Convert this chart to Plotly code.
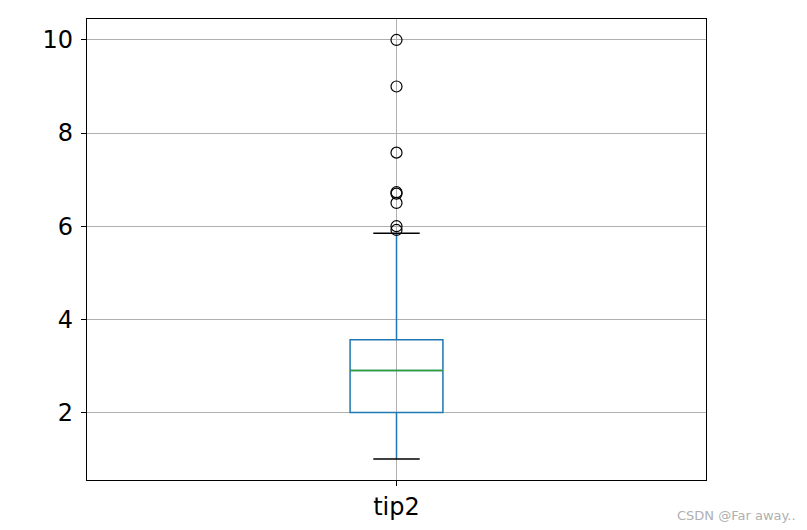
import plotly.graph_objects as go

# ---- data ----
category = ["tip2"]
q1 = [2.0]
median = [2.9]
q3 = [3.5625]
lower_whisker = [1.0]
upper_whisker = [5.85]
outliers = [5.92, 6.0, 6.5, 6.7, 6.73, 7.58, 9.0, 10.0]
y_ticks = [2, 4, 6, 8, 10]

pos = 1.0
box_w = 0.15
cap_w = box_w / 2

fig = go.Figure()
fig.add_trace(go.Box(
    x=[pos], q1=q1, median=median, q3=q3,
    lowerfence=lower_whisker, upperfence=upper_whisker,
    width=box_w, whiskerwidth=0.0001,
    line=dict(color="#1f77b4", width=1.5),
    fillcolor="rgba(0,0,0,0)", boxpoints=False, hoverinfo="skip",
    showlegend=False,
))
# median line (green)
fig.add_trace(go.Scatter(
    x=[pos - box_w / 2, pos + box_w / 2], y=[median[0], median[0]],
    mode="lines", line=dict(color="#2ca02c", width=1.5), showlegend=False,
))
# caps (black)
for v in (lower_whisker[0], upper_whisker[0]):
    fig.add_trace(go.Scatter(
        x=[pos - cap_w / 2, pos + cap_w / 2], y=[v, v],
        mode="lines", line=dict(color="black", width=1.5), showlegend=False,
    ))
# outliers
fig.add_trace(go.Scatter(
    x=[pos] * len(outliers), y=outliers, mode="markers",
    marker=dict(symbol="circle-open", size=11, color="black", line=dict(width=1.2)),
    showlegend=False,
))

axis_common = dict(
    showline=True, linecolor="black", linewidth=1.2, mirror=True,
    ticks="outside", ticklen=5, tickcolor="black", tickwidth=1.2,
    showgrid=True, gridcolor="#b0b0b0", gridwidth=1, zeroline=False,
    automargin=False,
    tickfont=dict(family="DejaVu Sans", size=24, color="black"),
)
fig.update_xaxes(range=[0.5, 1.5], tickvals=[pos], ticktext=category, **axis_common)
fig.update_yaxes(range=[0.55, 10.45], tickvals=y_ticks, ticklabelstandoff=3, **axis_common)

fig.add_annotation(
    text="CSDN @Far away..", xref="paper", yref="paper", x=1.149, y=-0.056,
    xanchor="right", yanchor="top", showarrow=False,
    font=dict(family="DejaVu Sans", size=13, color="#b0b0b0"),
)

fig.update_layout(
    width=807, height=530,
    margin=dict(l=87, r=101, t=19, b=50),
    plot_bgcolor="white", paper_bgcolor="white",
)
fig.write_html("out.html", config={"displayModeBar": False},
               post_script="document.body.style.margin='0';")
